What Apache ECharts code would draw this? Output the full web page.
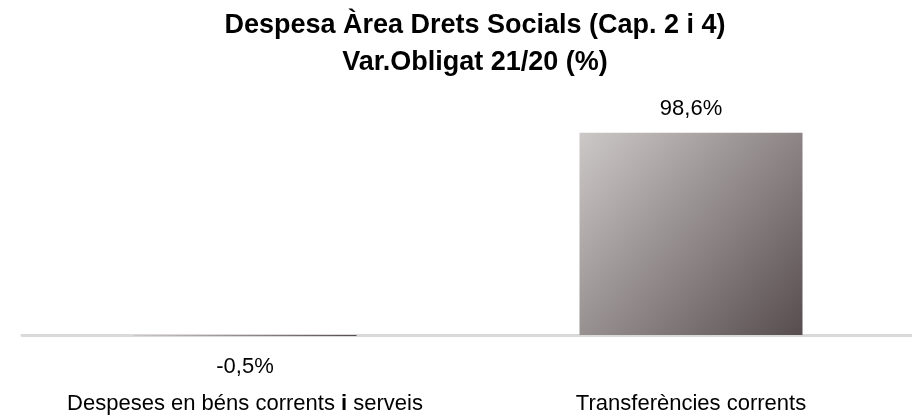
<!DOCTYPE html>
<html>
<head>
<meta charset="utf-8">
<script src="https://cdn.jsdelivr.net/npm/echarts@6/dist/echarts.min.js"></script>
<style>
  html, body { margin: 0; padding: 0; background: #fff; }
  #chart { width: 912px; height: 417px; }
</style>
</head>
<body>
<div id="chart"></div>
<script>
// dades
const categories = ['Despeses en béns corrents i serveis', 'Transferències corrents']
const values = [-0.5, 98.6]

const chart = echarts.init(document.getElementById('chart'))

const fmt = v => v.toFixed(1).replace('.', ',') + '%'

chart.setOption({
  animation: false,
  title: {
    text: 'Despesa Àrea Drets Socials (Cap. 2 i 4)\nVar.Obligat 21/20 (%)',
    left: 470,
    top: 2,
    textAlign: 'center',
    textStyle: {
      fontFamily: 'Liberation Sans',
      fontSize: 27,
      fontWeight: 'bold',
      color: '#000',
      lineHeight: 37
    }
  },
  grid: {
    left: 22,
    right: -2,
    top: 89,
    bottom: 41,
    containLabel: false,
    outerBoundsMode: 'none'
  },
  xAxis: {
    type: 'category',
    data: categories,
    axisLine: { onZero: true, lineStyle: { color: '#d9d9d9', width: 3 } },
    axisTick: { show: false },
    axisLabel: {
      interval: 0,
      margin: 17,
      fontFamily: 'Liberation Sans',
      fontSize: 22,
      color: '#000',
      formatter: v => v.replace(' i ', ' {b|i} '),
      rich: {
        b: { fontFamily: 'Liberation Sans', fontSize: 22, fontWeight: 'bold', color: '#000' }
      }
    }
  },
  yAxis: {
    type: 'value',
    min: -20,
    max: 120,
    show: false,
    splitLine: { show: false }
  },
  series: [{
    type: 'bar',
    data: values.map(v => ({
      value: v,
      label: v < 0 ? { position: 'bottom', distance: 20 } : { position: 'top', distance: 13 }
    })),
    barWidth: '50%',
    itemStyle: {
      color: {
        type: 'linear',
        x: 0, y: 0, x2: 1, y2: 1,
        colorStops: [
          { offset: 0, color: '#cdc8c8' },
          { offset: 1, color: '#574d4f' }
        ]
      }
    },
    label: {
      show: true,
      fontFamily: 'Liberation Sans',
      fontSize: 22,
      color: '#000',
      formatter: p => fmt(p.value)
    }
  }]
})
</script>
</body>
</html>
